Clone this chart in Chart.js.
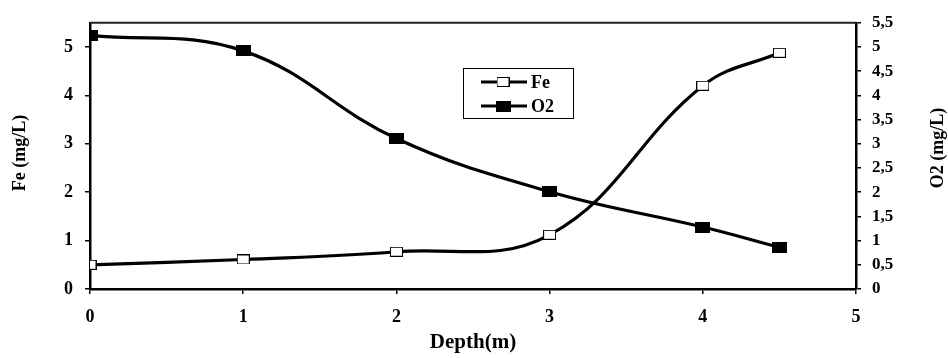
<!DOCTYPE html>
<html>
<head>
<meta charset="utf-8">
<script src="https://cdn.jsdelivr.net/npm/chart.js@4.4.1/dist/chart.umd.min.js"></script>
<style>
    html, body { margin: 0; padding: 0; background: #fff; }
    #wrap { width: 948px; height: 358px; position: relative; }
</style>
</head>
<body>
<div id="wrap"><canvas id="chart"></canvas></div>
<script>
// data
const depth = [0, 1, 2, 3, 4, 4.5];
const fe = [0.5, 0.61, 0.77, 1.12, 4.2, 4.88];
const o2 = [5.24, 4.92, 3.11, 2.01, 1.28, 0.86];

const depthTicks = [0, 1, 2, 3, 4, 5];
const feTicks = [0, 1, 2, 3, 4, 5];
const o2Ticks = [0, 0.5, 1, 1.5, 2, 2.5, 3, 3.5, 4, 4.5, 5, 5.5];

const FONT = '"Liberation Serif", "Times New Roman", serif';

// marker images (Excel-like squares, slightly wide)
function makeMarker(w, h, fill) {
    const c = document.createElement('canvas');
    c.width = w; c.height = h;
    const g = c.getContext('2d');
    g.fillStyle = fill;
    g.fillRect(0, 0, w, h);
    g.strokeStyle = '#000';
    g.lineWidth = 1;
    g.strokeRect(0.5, 0.5, w - 1, h - 1);
    return c;
}
const feMarker = makeMarker(13, 10, '#fff');
const o2Marker = makeMarker(15, 11, '#000');

const toPoints = (xs, ys) => xs.map((x, i) => ({ x: x, y: ys[i] }));

// plot box top edge + y titles + floating legend
const extras = {
    id: 'extras',
    afterDraw(chart) {
        const { ctx, chartArea: a } = chart;
        ctx.save();
        ctx.strokeStyle = '#222';
        ctx.lineWidth = 2;
        ctx.beginPath();
        ctx.moveTo(a.left, a.top);
        ctx.lineTo(a.right, a.top);
        ctx.stroke();
        ctx.restore();

        [['Fe (mg/L)', 20, 153], ['O2 (mg/L)', 938, 148]].forEach(([txt, x, y]) => {
            ctx.save();
            ctx.fillStyle = '#000';
            ctx.font = 'bold 18px ' + FONT;
            ctx.textAlign = 'center';
            ctx.textBaseline = 'middle';
            ctx.translate(x, y);
            ctx.rotate(-Math.PI / 2);
            ctx.fillText(txt, 0, 0);
            ctx.restore();
        });

        // legend
        ctx.save();
        ctx.fillStyle = '#fff';
        ctx.fillRect(463, 68, 110, 50);
        ctx.strokeStyle = '#000';
        ctx.lineWidth = 1;
        ctx.strokeRect(463.5, 68.5, 110, 50);
        const rows = [
            { label: 'Fe', img: feMarker, y: 82 },
            { label: 'O2', img: o2Marker, y: 106 }
        ];
        ctx.font = 'bold 18px ' + FONT;
        ctx.textBaseline = 'middle';
        ctx.textAlign = 'left';
        rows.forEach(r => {
            ctx.strokeStyle = '#000';
            ctx.lineWidth = 3;
            ctx.beginPath();
            ctx.moveTo(481, r.y);
            ctx.lineTo(527, r.y);
            ctx.stroke();
            ctx.drawImage(r.img, 503 - r.img.width / 2, r.y - r.img.height / 2);
            ctx.fillStyle = '#000';
            ctx.fillText(r.label, 531, r.y + 1);
        });
        ctx.restore();
    }
};

new Chart(document.getElementById('chart'), {
    type: 'line',
    data: {
        datasets: [
            {
                label: 'Fe',
                data: toPoints(depth, fe),
                yAxisID: 'y',
                borderColor: '#000',
                borderWidth: 3.2,
                tension: 0.4,
                pointStyle: feMarker,
                pointRadius: 6,
                fill: false
            },
            {
                label: 'O2',
                data: toPoints(depth, o2),
                yAxisID: 'y1',
                borderColor: '#000',
                borderWidth: 3.2,
                tension: 0.4,
                pointStyle: o2Marker,
                pointRadius: 7,
                fill: false
            }
        ]
    },
    options: {
        responsive: true,
        maintainAspectRatio: false,
        animation: false,
        layout: { padding: { top: 15 } },
        plugins: { legend: { display: false }, tooltip: { enabled: false } },
        scales: {
            x: {
                type: 'linear',
                min: 0, max: 5,
                afterBuildTicks: s => { s.ticks = depthTicks.map(v => ({ value: v })); },
                afterFit: s => { s.height = 69; },
                grid: { drawOnChartArea: false, color: '#000', lineWidth: 1.5, tickLength: 5 },
                border: { color: '#000', width: 2.5 },
                ticks: { color: '#000', font: { family: FONT, size: 18, weight: 'bold' }, padding: 13 },
                title: { display: true, text: 'Depth(m)', color: '#000', font: { family: FONT, size: 21, weight: 'bold' }, padding: { top: 0, bottom: 3 } }
            },
            y: {
                position: 'left',
                min: 0, max: 5.5,
                afterBuildTicks: s => { s.ticks = feTicks.map(v => ({ value: v })); },
                afterFit: s => { s.width = 90; },
                grid: { drawOnChartArea: false, color: '#000', lineWidth: 1.5, tickLength: 5 },
                border: { color: '#000', width: 2.5 },
                ticks: { color: '#000', font: { family: FONT, size: 18, weight: 'bold' }, padding: 12 }
            },
            y1: {
                position: 'right',
                min: 0, max: 5.5,
                afterBuildTicks: s => { s.ticks = o2Ticks.map(v => ({ value: v })); },
                afterFit: s => { s.width = 92; },
                grid: { drawOnChartArea: false, color: '#000', lineWidth: 1.5, tickLength: 5 },
                border: { color: '#000', width: 2.5 },
                ticks: {
                    color: '#000',
                    font: { family: FONT, size: 17, weight: 'bold' },
                    padding: 11,
                    callback: v => String(v).replace('.', ',')
                }
            }
        }
    },
    plugins: [extras]
});
</script>
</body>
</html>
